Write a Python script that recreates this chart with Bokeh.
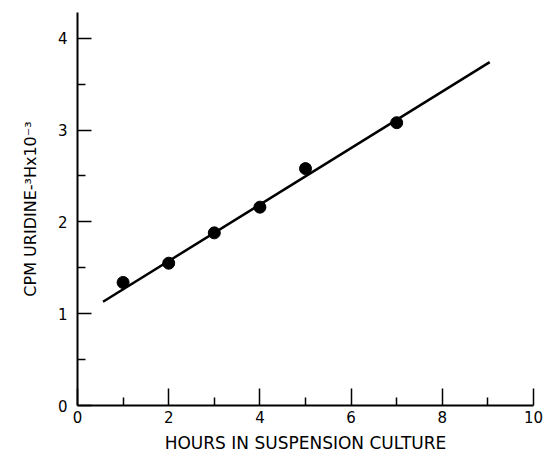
from bokeh.plotting import figure
from bokeh.models import FixedTicker, Range1d
from bokeh.embed import file_html
from bokeh.resources import INLINE

# Data
hours = [1, 2, 3, 4, 5, 7]
cpm = [1.34, 1.55, 1.88, 2.16, 2.58, 3.08]
fit_x = [0.56, 9.04]
fit_y = [1.13, 3.74]

x_ticks = [0, 2, 4, 6, 8, 10]
x_minor = [1, 3, 5, 7, 9]
y_ticks = [0, 1, 2, 3, 4]
y_minor = [0.5, 1.5, 2.5, 3.5]

FONT = "DejaVu Sans"

p = figure(width=544, height=455, output_backend="svg", toolbar_location=None,
           x_range=Range1d(0, 10), y_range=Range1d(0, 4.28),
           min_border_left=77, min_border_right=11, min_border_top=12, min_border_bottom=49)
p.outline_line_color = None
p.grid.visible = False
p.background_fill_color = "white"

p.line(fit_x, fit_y, line_color="black", line_width=2.5)
p.scatter(hours, cpm, size=12, fill_color="black", line_color="black")

for ax in (p.xaxis[0], p.yaxis[0]):
    ax.axis_line_width = 2
    ax.axis_line_color = "black"
    ax.major_tick_line_width = 1.5
    ax.minor_tick_line_width = 1.5
    ax.major_tick_out = 0
    ax.minor_tick_out = 0
    ax.major_label_text_font = FONT
    ax.major_label_text_font_size = "15px"
    ax.major_label_text_color = "black"
    ax.axis_label_text_font = FONT
    ax.axis_label_text_font_style = "normal"
    ax.axis_label_text_color = "black"

p.xaxis.axis_label_text_font_size = "17px"
p.yaxis.axis_label_text_font_size = "16px"
p.xaxis.ticker = FixedTicker(ticks=x_ticks, minor_ticks=x_minor)
p.yaxis.ticker = FixedTicker(ticks=y_ticks, minor_ticks=y_minor)
p.xaxis.major_tick_in = 17
p.xaxis.minor_tick_in = 8
p.yaxis.major_tick_in = 14
p.yaxis.minor_tick_in = 8
p.xaxis.major_label_standoff = 5
p.yaxis.major_label_standoff = 10
p.xaxis.axis_label = "HOURS IN SUSPENSION CULTURE"
p.yaxis.axis_label = "CPM URIDINE-³Hx10⁻³"
p.xaxis.axis_label_standoff = 7
p.yaxis.axis_label_standoff = 15

open("out.html", "w").write(file_html(p, INLINE))
